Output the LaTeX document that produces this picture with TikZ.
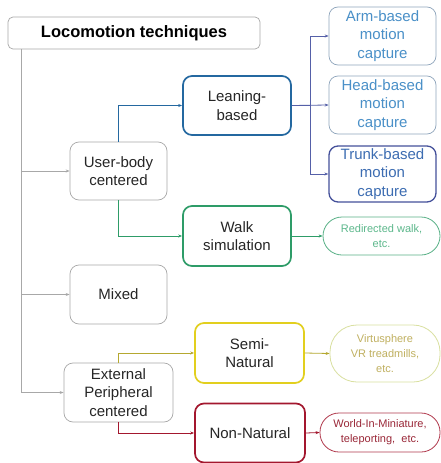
\documentclass[tikz,border=0pt]{standalone}
\usepackage{fontspec}
\setmainfont{Liberation Sans}
\usetikzlibrary{arrows.meta}
\definecolor{grayln}{HTML}{A8A8A8}
\definecolor{leanblue}{HTML}{2468A0}
\definecolor{armtxt}{HTML}{4A90C8}
\definecolor{armln}{HTML}{8FA5BC}
\definecolor{trunkln}{HTML}{44509A}
\definecolor{trunktxt}{HTML}{3D6DB2}
\definecolor{purpl}{HTML}{5560A8}
\definecolor{walkgreen}{HTML}{2E9C68}
\definecolor{lightgreen}{HTML}{5DB88C}
\definecolor{semiyel}{HTML}{E2CF1E}
\definecolor{olive}{HTML}{B5A830}
\definecolor{virtln}{HTML}{D9E0A0}
\definecolor{virttxt}{HTML}{C0B060}
\definecolor{darkred}{HTML}{A3172E}
\definecolor{worldtxt}{HTML}{9A2838}
\tikzset{
  box/.style={draw=grayln, line width=0.7pt, rounded corners=9pt, align=center,
    font=\fontsize{15}{18.5}\selectfont, text=black!85, inner sep=1pt},
  strong/.style={box, line width=1.7pt},
  stadium/.style={draw, line width=0.8pt, rounded corners=19pt, align=center,
    font=\fontsize{11}{15}\selectfont, inner sep=1pt},
  conn/.style={draw=grayln, line width=0.8pt, -{Stealth[length=4pt,width=3pt]}},
}
\begin{document}
\begin{tikzpicture}[x=1pt,y=-1pt]
\useasboundingbox[fill=white] (0,0) rectangle (441,463);
% nodes
\node[box, rounded corners=5pt, minimum width=252pt, minimum height=32pt,
  font=\fontsize{16.5}{20}\selectfont\bfseries, text=black] (title) at (134,33) {Locomotion techniques};
\node[box, minimum width=97pt, minimum height=58pt] (user) at (118.5,171) {User-body\\centered};
\node[box, minimum width=97pt, minimum height=59pt] (mixed) at (118.5,294.5) {Mixed};
\node[box, minimum width=109pt, minimum height=59pt] (ext) at (118.5,392.5) {External\\Peripheral\\centered};
\node[strong, draw=leanblue, minimum width=108pt, minimum height=59pt] (lean) at (237,105.5) {Leaning-\\based};
\node[strong, draw=walkgreen, minimum width=108pt, minimum height=60pt] (walk) at (237,236) {Walk\\simulation};
\node[box, draw=armln, text=armtxt, minimum width=107pt, minimum height=58pt] (arm) at (382.5,36) {Arm-based\\motion\\capture};
\node[box, draw=armln, text=armtxt, minimum width=107pt, minimum height=58pt] (head) at (382.5,105) {Head-based\\motion\\capture};
\node[box, draw=trunkln, line width=1.3pt, text=trunktxt, minimum width=107pt, minimum height=56pt] (trunk) at (382.5,174) {Trunk-based\\motion\\capture};
\node[stadium, draw=walkgreen!80, text=lightgreen, minimum width=117pt, minimum height=38pt] (redir) at (381.5,236) {Redirected walk,\\etc.};
\node[strong, draw=semiyel, minimum width=109pt, minimum height=60pt] (semi) at (249.5,353) {Semi-\\Natural};
\node[stadium, draw=virtln, text=virttxt, rounded corners=27pt, minimum width=110pt, minimum height=57pt] (virt) at (385,353.5) {Virtusphere\\VR treadmills,\\etc.};
\node[strong, draw=darkred, minimum width=110pt, minimum height=59pt] (nonnat) at (250,433) {Non-Natural};
\node[stadium, draw=darkred!85, text=worldtxt, minimum width=120pt, minimum height=39pt] (world) at (380,432.5) {World-In-Miniature,\\teleporting,\ \ etc.};
% connectors
\coordinate (sp) at ([xshift=14pt]title.south west);
\draw[conn] (sp) |- (user.west);
\draw[conn] (sp) |- (mixed.west);
\draw[conn] (sp) |- (ext.west);
\draw[conn, draw=leanblue] (user.north) |- (lean.west);
\draw[conn, draw=walkgreen] (user.south) |- (walk.west);
\draw[conn, draw=purpl] (lean.east) -- ++(19,0) |- (arm.west);
\draw[conn, draw=purpl] (lean.east) -- (head.west);
\draw[conn, draw=purpl] (lean.east) -- ++(19,0) |- (trunk.west);
\draw[conn, draw=walkgreen] (walk.east) -- (redir.west);
\draw[conn, draw=olive] (ext.north) |- (semi.west);
\draw[conn, draw=darkred] (ext.south) |- (nonnat.west);
\draw[conn, draw=olive] (semi.east) -- (virt.west);
\draw[conn, draw=darkred] (nonnat.east) -- (world.west);
\end{tikzpicture}
\end{document}
